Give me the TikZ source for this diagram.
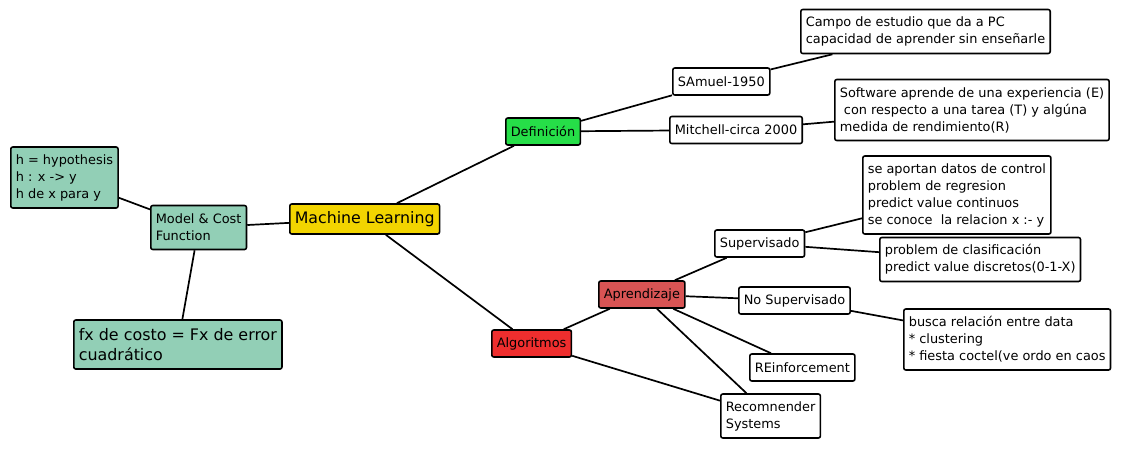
\documentclass[tikz,border=0pt]{standalone}
\usepackage{fontspec}
\setmainfont{DejaVu Sans}
\definecolor{mlyellow}{HTML}{F2D400}
\definecolor{defgreen}{HTML}{26DE48}
\definecolor{algred}{HTML}{EE2E2E}
\definecolor{aprred}{HTML}{D85454}
\definecolor{teal}{HTML}{92CFB6}
\begin{document}
\begin{tikzpicture}[x=1pt,y=-1pt,
  box/.style={draw,line width=1.6pt,rounded corners=2pt,anchor=west,align=left,
    inner xsep=5pt,inner ysep=2pt,minimum height=27pt,fill=white,
    font=\fontsize{12.9}{17}\selectfont},
  twol/.style={minimum height=44pt},
  threel/.style={minimum height=61pt},
  fourl/.style={minimum height=78pt},
  link/.style={line width=1.7pt}]
\useasboundingbox (0,0) rectangle (1121,448);
% left side
\node[box,threel,fill=teal] (hyp) at (10,177.5) {h = hypothesis\\h : x -> y\\h de x para y};
\node[box,twol,fill=teal] (model) at (150,227.5) {Model \& Cost\\Function};
\node[box,fill=mlyellow,minimum height=30pt,font=\fontsize{15.8}{19}\selectfont] (ml) at (289,219) {Machine Learning};
\node[box,fill=teal,minimum height=49pt,font=\fontsize{15.9}{19.5}\selectfont] (fx) at (73,344.5) {fx de costo = Fx de error\\cuadrático};
% definicion
\node[box,fill=defgreen] (def) at (505,131.5) {Definición};
\node[box] (samuel) at (672,81.5) {SAmuel-1950};
\node[box] (mitchell) at (669,130) {Mitchell-circa 2000};
\node[box,twol] (campo) at (800,31.5) {Campo de estudio que da a PC\\capacidad de aprender sin enseñarle};
\node[box,threel] (soft) at (834,110) {Software aprende de una experiencia (E)\\~con respecto a una tarea (T) y algúna\\medida de rendimiento(R)};
% algoritmos
\node[box,fill=algred] (alg) at (491,343.5) {Algoritmos};
\node[box,fill=aprred] (apr) at (598,294.5) {Aprendizaje};
\node[box] (sup) at (714,243.5) {Supervisado};
\node[box,fourl] (regr) at (862,195) {se aportan datos de control\\problem de regresion\\predict value continuos\\se conoce\ \ la relacion x :- y};
\node[box,twol] (clasif) at (879,259.5) {problem de clasificación\\predict value discretos(0-1-X)};
\node[box] (nosup) at (738,300.5) {No Supervisado};
\node[box,threel] (busca) at (903,339.5) {busca relación entre data\\* clustering\\* fiesta coctel(ve ordo en caos};
\node[box] (reinf) at (749,367.5) {REinforcement};
\node[box,twol] (rec) at (720,416) {Recomnender\\Systems};
% links
\draw[link] (hyp) -- (model);
\draw[link] (model) -- (ml);
\draw[link] (model) -- (fx);
\draw[link] (ml) -- (def);
\draw[link] (def) -- (samuel);
\draw[link] (def) -- (mitchell);
\draw[link] (samuel) -- (campo);
\draw[link] (mitchell) -- (soft);
\draw[link] (ml) -- (alg);
\draw[link] (alg) -- (apr);
\draw[link] (alg) -- (rec);
\draw[link] (apr) -- (sup);
\draw[link] (apr) -- (nosup);
\draw[link] (apr) -- (reinf);
\draw[link] (apr) -- (rec);
\draw[link] (sup) -- (regr);
\draw[link] (sup) -- (clasif);
\draw[link] (nosup) -- (busca);
\end{tikzpicture}
\end{document}
